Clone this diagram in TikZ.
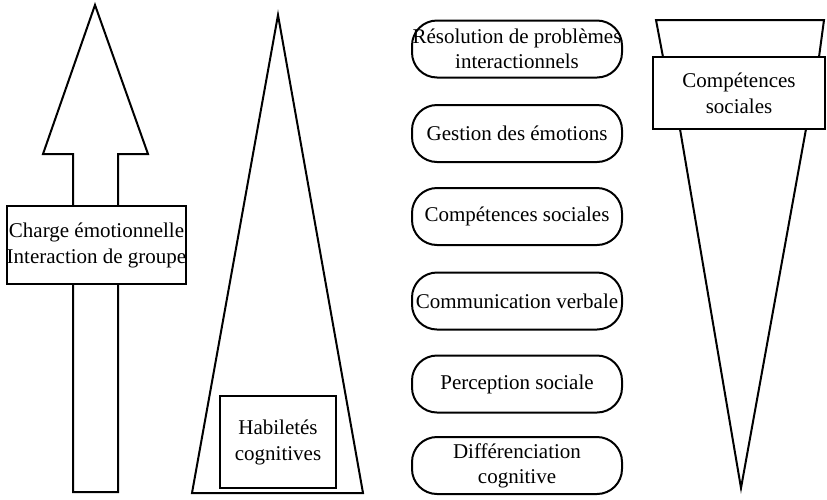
\documentclass[tikz,border=0pt]{standalone}
\usepackage{fontspec}
\setmainfont{Liberation Serif}
\begin{document}
\begin{tikzpicture}[x=1pt,y=-1pt,line join=miter,
  shapeline/.style={draw=black,line width=2pt},
  labelbox/.style={draw=black,line width=2pt,fill=white,inner sep=0pt,align=center,
    font=\fontsize{21}{26}\selectfont},
  pill/.style={draw=black,line width=2pt,rounded corners=25pt,inner sep=0pt,align=center,
    minimum width=210pt,minimum height=57pt,font=\fontsize{21}{25}\selectfont}]
\useasboundingbox (0,0) rectangle (827,499);
% arrow
\draw[shapeline] (95,5) -- (148,154) -- (118,154) -- (118,492) -- (73,492) -- (73,154) -- (43,154) -- cycle;
\node[labelbox,minimum width=179pt,minimum height=78pt] (charge) at (96.5,245)
  {Charge émotionnelle\\Interaction de groupe};
% triangle
\draw[shapeline] (278,15) -- (363,493) -- (192,493) -- cycle;
\node[labelbox,minimum width=116pt,minimum height=92pt] (habil) at (278,442)
  {Habiletés\\cognitives};
% pills
\node[pill] (p1) at (517,49) {Résolution de problèmes\\interactionnels};
\node[pill] (p2) at (517,133.5) {Gestion des émotions};
\node[pill] (p3) at (517,216.5) {Compétences sociales};
\node[pill] (p4) at (517,301) {Communication verbale};
\node[pill] (p5) at (517,384) {Perception sociale};
\node[pill] (p6) at (517,465.5) {Différenciation\\cognitive};
% funnel
\draw[shapeline] (663,57) -- (656,20) -- (824,20) -- (819,57);
\node[labelbox,minimum width=172pt,minimum height=72pt] (comp) at (739,93)
  {Compétences\\sociales};
\coordinate (tip) at (741,488);
\draw[shapeline] (680,129) -- (tip) -- (806,129);
\end{tikzpicture}
\end{document}
